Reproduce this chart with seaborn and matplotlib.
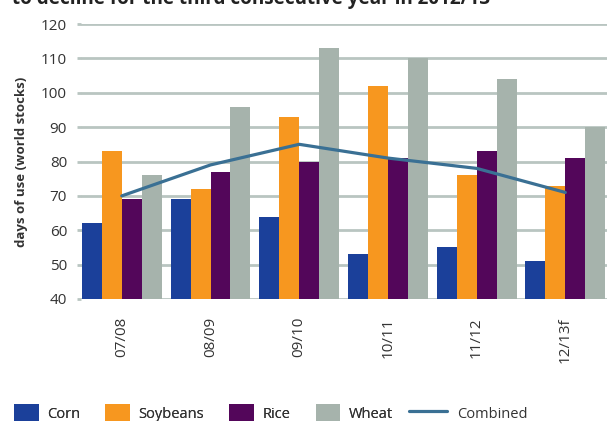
import numpy as np
import pandas as pd
import matplotlib
matplotlib.use("Agg")
import matplotlib.pyplot as plt
import seaborn as sns
from matplotlib.patches import Patch
from matplotlib.lines import Line2D

# Days of use (world stocks) by crop and marketing year
years = ["07/08", "08/09", "09/10", "10/11", "11/12", "12/13f"]
corn = [62, 69, 64, 53, 55, 51]
soybeans = [83, 72, 93, 102, 76, 73]
rice = [69, 77, 80, 81, 83, 81]
wheat = [76, 96, 113, 110, 104, 90]
combined = [70, 79, 85, 81, 78, 71]

crops = ["Corn", "Soybeans", "Rice", "Wheat"]
colors = {"Corn": "#1b409a", "Soybeans": "#f7971f", "Rice": "#53065a", "Wheat": "#a6b3ac"}
line_color = "#3a7094"
grid_color = "#b9c5c1"
text_color = "#333333"

df = pd.DataFrame({
    "year": np.repeat(years, len(crops)),
    "crop": crops * len(years),
    "days": [v for row in zip(corn, soybeans, rice, wheat) for v in row],
})

sns.set_theme(style="white")
plt.rcParams["font.family"] = ["Open Sans", "DejaVu Sans"]

fig = plt.figure(figsize=(6.15, 4.21), dpi=100)
ax = fig.add_axes([81 / 615, 1 - 299 / 421, (607 - 81) / 615, (299 - 24) / 421])

sns.barplot(data=df, x="year", y="days", hue="crop", hue_order=crops,
            palette=colors, saturation=1, width=0.9, gap=0, ax=ax,
            legend=False, zorder=3, linewidth=0, edgecolor="none")
sns.lineplot(x=np.arange(len(years)), y=combined, color=line_color,
             linewidth=2.3, ax=ax, zorder=4)

ax.set_ylim(40, 120)
ax.set_xlim(-0.46, 5.47)
ax.set_yticks(range(40, 121, 10))
ax.yaxis.grid(True, color=grid_color, linewidth=2, zorder=0)
ax.xaxis.grid(False)
for s in ax.spines.values():
    s.set_visible(False)

ax.tick_params(axis="y", length=3, width=2, color=grid_color, pad=7,
               labelsize=11, labelcolor=text_color, left=True)
ax.tick_params(axis="x", length=0, pad=13, labelsize=11,
               labelcolor=text_color, labelrotation=90)
ax.set_xlabel("")
ax.set_ylabel("days of use (world stocks)", fontsize=9.5, fontweight="bold",
              color=text_color, labelpad=9)

fig.text(12 / 615, 1 - 4 / 421,
         "to decline for the third consecutive year in 2012/13",
         fontsize=13.6, fontweight="bold", color="#222222", va="baseline")

# Crop swatches and the combined line get their own legends so the
# line sample can be longer than the colour squares.
patch_handles = [Patch(facecolor=colors[c], edgecolor="none", label=c) for c in crops]
leg1 = fig.legend(handles=patch_handles, loc="lower left",
                  bbox_to_anchor=(14 / 615, -0.004), ncol=4, frameon=False,
                  fontsize=10.5, handlelength=1.7, handleheight=1.6,
                  handletextpad=0.55, columnspacing=1.75,
                  labelcolor=text_color, borderaxespad=0, borderpad=0)
line_handle = [Line2D([], [], color=line_color, linewidth=2.3, label="Combined")]
fig.legend(handles=line_handle, loc="lower left",
           bbox_to_anchor=(409 / 615, -0.004), frameon=False, fontsize=10.5,
           handlelength=2.6, handleheight=1.6, handletextpad=0.7,
           labelcolor=text_color, borderaxespad=0, borderpad=0)
fig.add_artist(leg1)

fig.savefig("out.png", dpi=100)
